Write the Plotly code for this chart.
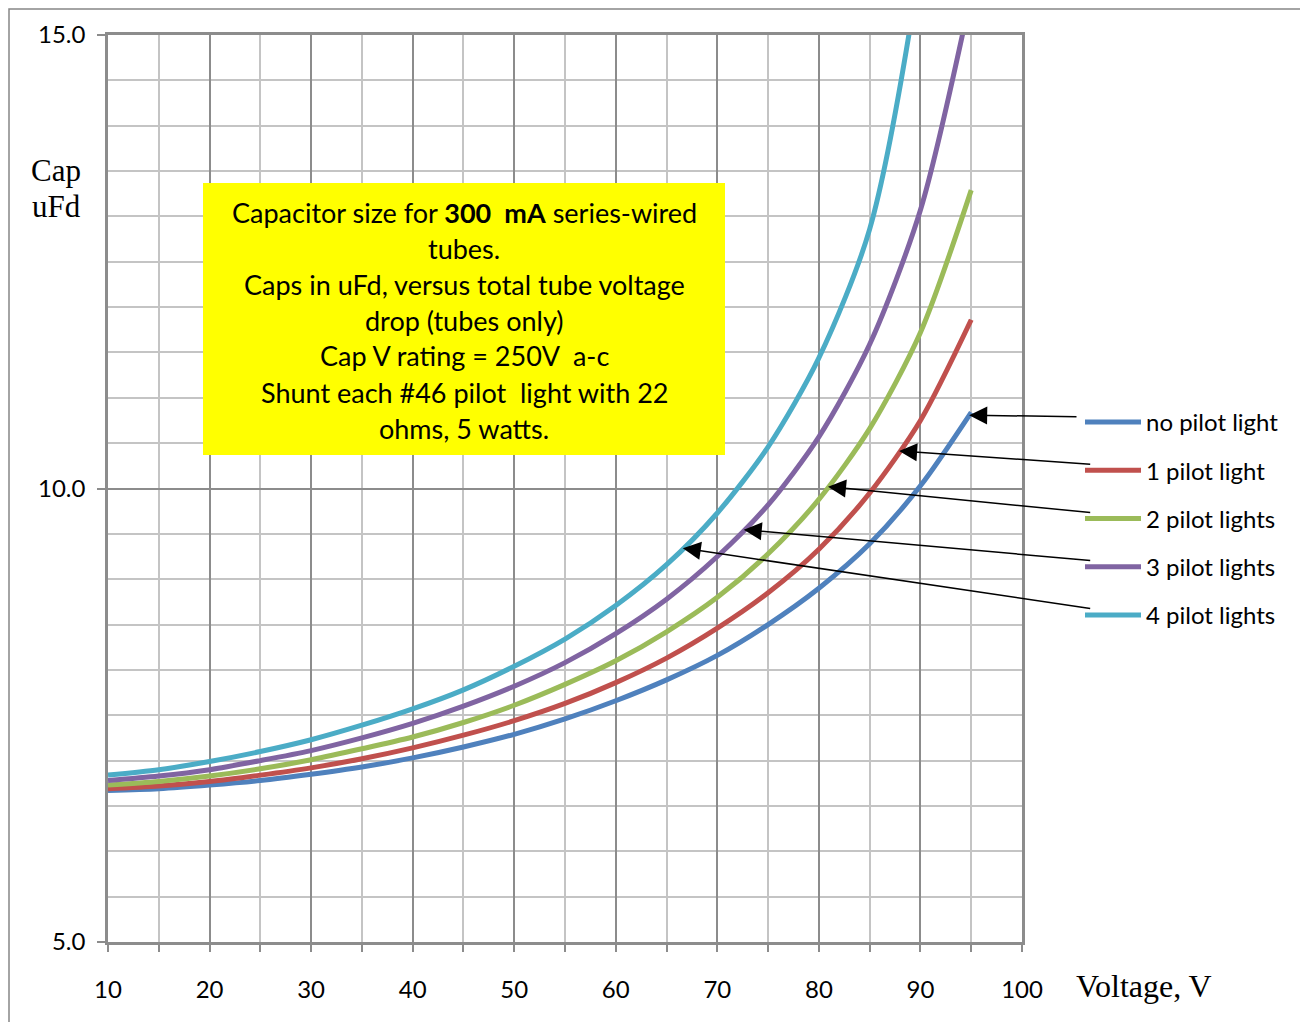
import numpy as np
import plotly.graph_objects as go

# ---- data ----
voltage = [10, 15, 20, 25, 30, 35, 40, 45, 50, 55, 60, 65, 70, 75, 80, 85, 90, 95]
no_pilot = [6.67, 6.69, 6.73, 6.78, 6.85, 6.93, 7.03, 7.15, 7.29, 7.46, 7.66, 7.89, 8.16, 8.50, 8.90, 9.39, 10.03, 10.84]
pilot_1 = [6.69, 6.72, 6.77, 6.84, 6.92, 7.02, 7.14, 7.28, 7.44, 7.63, 7.86, 8.13, 8.46, 8.85, 9.33, 9.95, 10.75, 11.86]
pilot_2 = [6.73, 6.77, 6.83, 6.91, 7.01, 7.13, 7.26, 7.42, 7.61, 7.84, 8.10, 8.42, 8.80, 9.28, 9.88, 10.66, 11.72, 13.29]
pilot_3 = [6.78, 6.83, 6.90, 7.00, 7.11, 7.25, 7.41, 7.60, 7.82, 8.08, 8.40, 8.78, 9.25, 9.82, 10.57, 11.59, 13.07, 15.45]
pilot_4 = [6.84, 6.90, 6.99, 7.10, 7.23, 7.39, 7.57, 7.78, 8.04, 8.34, 8.71, 9.16, 9.73, 10.46, 11.44, 12.86, 15.80, 20.50]

series_values = [no_pilot, pilot_1, pilot_2, pilot_3, pilot_4]
series_names = ["no pilot light", "1 pilot light", "2 pilot lights", "3 pilot lights", "4 pilot lights"]
series_colors = ["#4F81BD", "#C0504D", "#9BBB59", "#8064A2", "#4BACC6"]

x_tick_values = [10, 20, 30, 40, 50, 60, 70, 80, 90, 100]
y_tick_values = [5.0, 10.0, 15.0]
y_tick_labels = ["5.0", "10.0", "15.0"]

note_lines = [
    "Capacitor size for <b>300  mA</b> series-wired",
    "tubes.",
    "Caps in uFd, versus total tube voltage",
    "drop (tubes only)",
    "Cap V rating = 250V  a-c",
    "Shunt each #46 pilot  light with 22",
    "ohms, 5 watts.",
]

# where each legend arrow points on its curve (voltage)
arrow_target_v = [94.8, 87.9, 80.9, 72.6, 66.6]

SANS = "Lato"
SERIF = "Liberation Serif"
GRID_MAJOR = "#8C8C8C"
GRID_MINOR = "#C4C4C4"

fig = go.Figure()
for i, (vals, name, col) in enumerate(zip(series_values, series_names, series_colors)):
    fig.add_trace(go.Scatter(
        x=voltage, y=vals, name=name, mode="lines",
        line=dict(color=col, width=5, shape="spline", smoothing=0.8),
        legendgroup=f"g{i}", hoverinfo="x+y+name",
    ))

# page offset of the figure inside the browser (body margin)
OFF = 8
# plot geometry in screen pixels
SL, SR, ST, SB = 108, 1022, 35, 942
W, H = 1300, 1014
L, T = SL - OFF, ST - OFF
R, B = W - (SR - OFF), H - (SB - OFF)
pw, ph = SR - SL, SB - ST
XR = (10, 100)
YR = (5, 15)


def px_x(px):
    return (px - SL) / pw


def px_y(py):
    return (SB - py) / ph


def data_x(px):
    return XR[0] + px_x(px) * (XR[1] - XR[0])


def data_y(py):
    return YR[0] + px_y(py) * (YR[1] - YR[0])


fig.update_layout(
    width=W, height=H,
    margin=dict(l=L, r=R, t=T, b=B),
    paper_bgcolor="white", plot_bgcolor="white",
    showlegend=True,
    legend=dict(
        x=px_x(1080), y=px_y(400), xanchor="left", yanchor="top",
        font=dict(family=SANS, size=24, color="black"),
        bgcolor="rgba(0,0,0,0)", borderwidth=0,
        tracegroupgap=14, itemwidth=56, traceorder="grouped",
    ),
    xaxis=dict(
        range=list(XR), tickvals=x_tick_values, ticks="outside", ticklen=7,
        tickcolor=GRID_MAJOR, tickwidth=1.5,
        showgrid=True, gridcolor=GRID_MAJOR, gridwidth=1.5,
        minor=dict(dtick=5, tick0=10, ticks="outside", ticklen=7, tickcolor=GRID_MAJOR,
                   showgrid=True, gridcolor=GRID_MINOR, gridwidth=1.5),
        showline=True, linecolor=GRID_MAJOR, linewidth=2.5, mirror=True,
        tickfont=dict(family=SANS, size=24, color="black"),
        ticklabelstandoff=17, zeroline=False, fixedrange=True,
    ),
    yaxis=dict(
        range=list(YR), tickvals=y_tick_values, ticktext=y_tick_labels,
        ticks="outside", ticklen=8, tickcolor=GRID_MAJOR, tickwidth=1.5,
        showgrid=True, gridcolor=GRID_MAJOR, gridwidth=1.5,
        minor=dict(dtick=0.5, tick0=5, showgrid=True, gridcolor=GRID_MINOR, gridwidth=1.5),
        showline=True, linecolor=GRID_MAJOR, linewidth=2.5, mirror=True,
        tickfont=dict(family=SANS, size=24, color="black"),
        ticklabelstandoff=7, zeroline=False, fixedrange=True,
    ),
)

# outer chart border
fig.add_shape(type="rect", xref="paper", yref="paper",
              x0=px_x(9), x1=px_x(1305), y0=px_y(1040), y1=px_y(9),
              line=dict(color="#868686", width=1.5), fillcolor="rgba(0,0,0,0)", layer="below")

# yellow note box
fig.add_shape(type="rect", xref="paper", yref="paper",
              x0=px_x(203), x1=px_x(725), y0=px_y(455), y1=px_y(183),
              line=dict(width=0), fillcolor="#FFFF00", layer="above")
for k, line in enumerate(note_lines):
    fig.add_annotation(xref="paper", yref="paper", x=px_x(464), y=px_y(212 + 36 * k),
                       text=line, showarrow=False, xanchor="center", yanchor="middle",
                       font=dict(family=SANS, size=27, color="black"))

# axis titles
for txt, cy in (("Cap", 170), ("uFd", 206)):
    fig.add_annotation(xref="paper", yref="paper", x=px_x(56), y=px_y(cy),
                       text=txt, showarrow=False, xanchor="center", yanchor="middle",
                       font=dict(family=SERIF, size=31, color="black"))
fig.add_annotation(xref="paper", yref="paper", x=px_x(1074), y=px_y(986),
                   text="Voltage, V", showarrow=False, xanchor="left", yanchor="middle",
                   font=dict(family=SERIF, size=32, color="black"))

# arrows from legend entries to curves
tail_px = [(1078, 416.7), (1091.7, 464.3), (1091.7, 512.7), (1091.7, 560.7), (1091.7, 608.7)]
for vals, tv, (tx, ty) in zip(series_values, arrow_target_v, tail_px):
    hy = float(np.interp(tv, voltage, vals))
    fig.add_annotation(x=tv, y=hy, xref="x", yref="y",
                       ax=data_x(tx), ay=data_y(ty), axref="x", ayref="y",
                       showarrow=True, arrowhead=2, arrowsize=2.4, arrowwidth=1.5,
                       arrowcolor="black", text="")

fig.write_html("out.html")
